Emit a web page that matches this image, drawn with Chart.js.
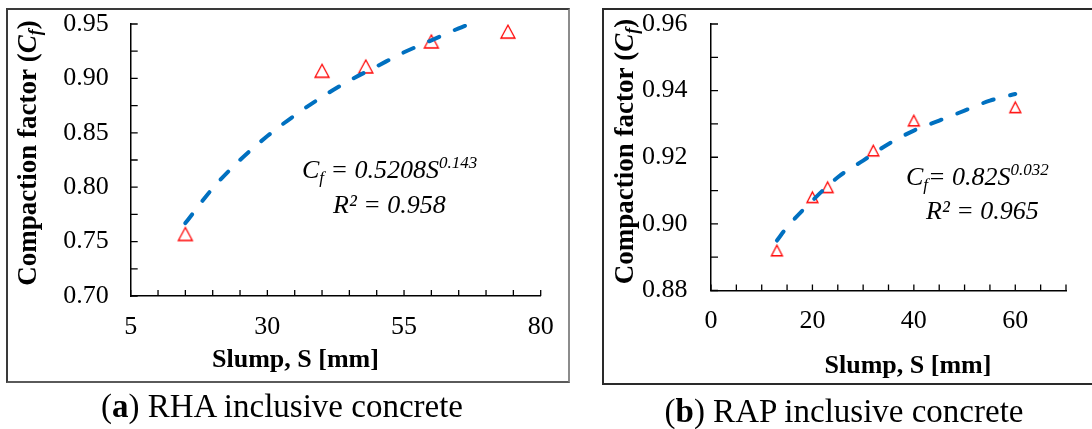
<!DOCTYPE html>
<html><head><meta charset="utf-8">
<script src="https://cdn.jsdelivr.net/npm/chart.js@4.4.1/dist/chart.umd.min.js"></script>
<style>
html,body{margin:0;padding:0;background:#fff;}
body{width:1092px;height:429px;position:relative;overflow:hidden;font-family:"Liberation Serif","Times New Roman",serif;}
.frame{position:absolute;box-sizing:border-box;}
#frameA{left:6px;top:8px;width:564px;height:375px;border-top:2px solid #3a3a3a;border-left:2px solid #3a3a3a;border-right:2px solid #8c8c8c;border-bottom:2px solid #5a5a5a;}
#frameB{left:602px;top:8px;width:500px;height:377px;border:2px solid #2a2a2a;}
.cv{position:absolute;}
#wrapA{left:0;top:0;width:580px;height:390px;}
#wrapB{left:595px;top:0;width:497px;height:395px;}
.cap{position:absolute;font-size:33px;line-height:33px;color:#000;white-space:nowrap;transform:translateX(-50%);}
#capA{left:282px;top:390px;}
#capB{left:844px;top:395px;}
</style></head>
<body>
<div class="frame" id="frameA"></div>
<div class="frame" id="frameB"></div>
<div class="cv" id="wrapA"><canvas id="cA"></canvas></div>
<div class="cv" id="wrapB"><canvas id="cB"></canvas></div>
<div class="cap" id="capA">(<b>a</b>) RHA inclusive concrete</div>
<div class="cap" id="capB">(<b>b</b>) RAP inclusive concrete</div>
<script>
// ---- data ----
const rhaSlump = [15, 40, 48, 60, 74];
const rhaCf = [0.757, 0.907, 0.911, 0.934, 0.943];
const rhaFitSlump = [15, 20, 25, 30, 35, 40, 45, 50, 55, 60, 65, 67];
const rhaFitCf = [0.767, 0.799, 0.825, 0.847, 0.866, 0.883, 0.898, 0.911, 0.924, 0.935, 0.946, 0.950];
const rhaXLabels = [5, 30, 55, 80];
const rhaYLabels = [0.70, 0.75, 0.80, 0.85, 0.90, 0.95];

const rapSlump = [13, 20, 23, 32, 40, 60];
const rapCf = [0.892, 0.908, 0.911, 0.922, 0.931, 0.935];
const rapFitSlump = [13, 15, 20, 25, 30, 35, 40, 45, 50, 55, 60];
const rapFitCf = [0.895, 0.899, 0.907, 0.914, 0.919, 0.924, 0.928, 0.931, 0.934, 0.937, 0.939];
const rapXLabels = [0, 20, 40, 60];
const rapYLabels = [0.88, 0.90, 0.92, 0.94, 0.96];

const SERIF = "'Liberation Serif', 'Times New Roman', serif";
const isIn = (arr, v) => arr.some(a => Math.abs(a - v) < 1e-6);

// open triangle marker, centred on its bounding box (as in the source)
function triangleMarker(w, h) {
  const c = document.createElement('canvas');
  const pad = 2;
  c.width = Math.ceil(w + pad * 2);
  c.height = Math.ceil(h + pad * 2);
  const g = c.getContext('2d');
  const cx = c.width / 2, cy = c.height / 2;
  g.strokeStyle = '#FF0000';
  g.lineWidth = 1.3;
  g.lineJoin = 'miter';
  g.beginPath();
  g.moveTo(cx, cy - h / 2);
  g.lineTo(cx + w / 2, cy + h / 2);
  g.lineTo(cx - w / 2, cy + h / 2);
  g.closePath();
  g.stroke();
  return c;
}

function drawRich(ctx, parts, x, y, align) {
  let w = 0;
  parts.forEach(p => { ctx.font = p.f; p.w = ctx.measureText(p.t).width; w += p.w; });
  let cx = align === 'center' ? x - w / 2 : x;
  ctx.textAlign = 'left';
  ctx.textBaseline = 'alphabetic';
  parts.forEach(p => { ctx.font = p.f; ctx.fillText(p.t, cx, y + (p.dy || 0)); cx += p.w; });
}

const innerTicks = {
  id: 'innerTicks',
  beforeDatasetsDraw(chart) {
    const ctx = chart.ctx, xs = chart.scales.x, ys = chart.scales.y;
    ctx.save();
    ctx.strokeStyle = '#000';
    ctx.lineWidth = 1.3;
    ctx.beginPath();
    xs.ticks.forEach(t => {
      const px = xs.getPixelForValue(t.value);
      ctx.moveTo(px, ys.bottom); ctx.lineTo(px, ys.bottom - 6);
    });
    ys.ticks.forEach(t => {
      const py = ys.getPixelForValue(t.value);
      ctx.moveTo(xs.left, py); ctx.lineTo(xs.left + 7, py);
    });
    ctx.stroke();
    ctx.restore();
  }
};

const overlay = {
  id: 'overlay',
  afterDraw(chart, args, o) {
    const ctx = chart.ctx;
    ctx.save();
    ctx.fillStyle = '#000';
    ctx.save();
    ctx.translate(o.yTitle.x, o.yTitle.y);
    ctx.rotate(-Math.PI / 2);
    drawRich(ctx, [
      { t: 'Compaction factor (', f: 'bold 27px ' + SERIF },
      { t: 'C', f: 'italic bold 27px ' + SERIF },
      { t: 'f', f: 'italic bold 18px ' + SERIF, dy: 5 },
      { t: ')', f: 'bold 27px ' + SERIF }
    ], 0, 0, 'center');
    ctx.restore();
    drawRich(ctx, [{ t: 'Slump, S [mm]', f: 'bold 26px ' + SERIF }], o.xTitle.x, o.xTitle.y, 'center');
    o.notes.forEach(n => drawRich(ctx, n.parts, n.x, n.y, 'left'));
    ctx.restore();
  }
};

function eqParts(coefText, expText) {
  return [
    { t: 'C', f: 'italic 26px ' + SERIF },
    { t: 'f', f: 'italic 17px ' + SERIF, dy: 5 },
    { t: coefText, f: 'italic 26px ' + SERIF },
    { t: expText, f: 'italic 17px ' + SERIF, dy: -10 }
  ];
}

function makeChart(id, cfg) {
  const tickFont = { family: SERIF, size: 26 };
  return new Chart(document.getElementById(id), {
    type: 'scatter',
    data: {
      datasets: [
        {
          data: cfg.fitX.map((x, i) => ({ x, y: cfg.fitY[i] })),
          showLine: true,
          borderColor: '#0070C0',
          borderWidth: 4,
          borderDash: [11, 17],
          borderCapStyle: 'round',
          cubicInterpolationMode: 'monotone',
          pointRadius: 0,
          fill: false
        },
        {
          data: cfg.x.map((x, i) => ({ x, y: cfg.y[i] })),
          pointStyle: triangleMarker(cfg.tw, cfg.th),
          pointRadius: 8,
          showLine: false
        }
      ]
    },
    options: {
      responsive: true,
      maintainAspectRatio: false,
      animation: false,
      events: [],
      layout: { padding: { top: 24, right: cfg.padRight, left: 0, bottom: 0 } },
      plugins: {
        legend: { display: false },
        tooltip: { enabled: false },
        overlay: cfg.overlay
      },
      scales: {
        x: {
          type: 'linear',
          min: cfg.xMin, max: cfg.xMax,
          afterFit(s) { s.height = cfg.xH; s.paddingLeft = 0; s.paddingRight = 0; },
          grid: { display: true, drawOnChartArea: false, drawTicks: false },
          border: { display: true, color: '#000', width: 1.5 },
          ticks: {
            stepSize: 5, autoSkip: false, maxRotation: 0, padding: cfg.xPad,
            color: '#000', font: tickFont,
            callback: v => isIn(cfg.xLabels, v) ? String(v) : ''
          }
        },
        y: {
          type: 'linear',
          min: cfg.yMin, max: cfg.yMax,
          afterFit(s) { s.width = cfg.yW; s.paddingTop = 0; s.paddingBottom = 0; },
          grid: { display: true, drawOnChartArea: false, drawTicks: false },
          border: { display: true, color: '#000', width: 1.5 },
          ticks: {
            stepSize: cfg.yStep, autoSkip: false, padding: cfg.yPad,
            color: '#000', font: tickFont,
            callback: v => isIn(cfg.yLabels, v) ? v.toFixed(2) : ''
          }
        }
      }
    },
    plugins: [innerTicks, overlay]
  });
}

makeChart('cA', {
  x: rhaSlump, y: rhaCf, fitX: rhaFitSlump, fitY: rhaFitCf, tw: 14, th: 13,
  xMin: 5, xMax: 80, yMin: 0.70, yMax: 0.95, yStep: 0.025,
  xLabels: rhaXLabels, yLabels: rhaYLabels,
  xH: 94, yW: 130.7, padRight: 39.3, xPad: 16, yPad: 22,
  overlay: {
    yTitle: { x: 35.5, y: 153 },
    xTitle: { x: 295.5, y: 367 },
    notes: [
      { parts: eqParts(' = 0.5208S', '0.143'), x: 302, y: 178 },
      { parts: [{ t: 'R\u00B2 = 0.958', f: 'italic 26px ' + SERIF }], x: 333, y: 213 }
    ]
  }
});

makeChart('cB', {
  x: rapSlump, y: rapCf, fitX: rapFitSlump, fitY: rapFitCf, tw: 11, th: 10.5,
  xMin: 0, xMax: 70, yMin: 0.88, yMax: 0.96, yStep: 0.01,
  xLabels: rapXLabels, yLabels: rapYLabels,
  xH: 104.5, yW: 116, padRight: 26, xPad: 15, yPad: 23.5,
  overlay: {
    yTitle: { x: 38, y: 151.5 },
    xTitle: { x: 313, y: 373 },
    notes: [
      { parts: eqParts('= 0.82S', '0.032'), x: 311, y: 185 },
      { parts: [{ t: 'R\u00B2 = 0.965', f: 'italic 26px ' + SERIF }], x: 331, y: 219 }
    ]
  }
});
</script>
</body></html>
